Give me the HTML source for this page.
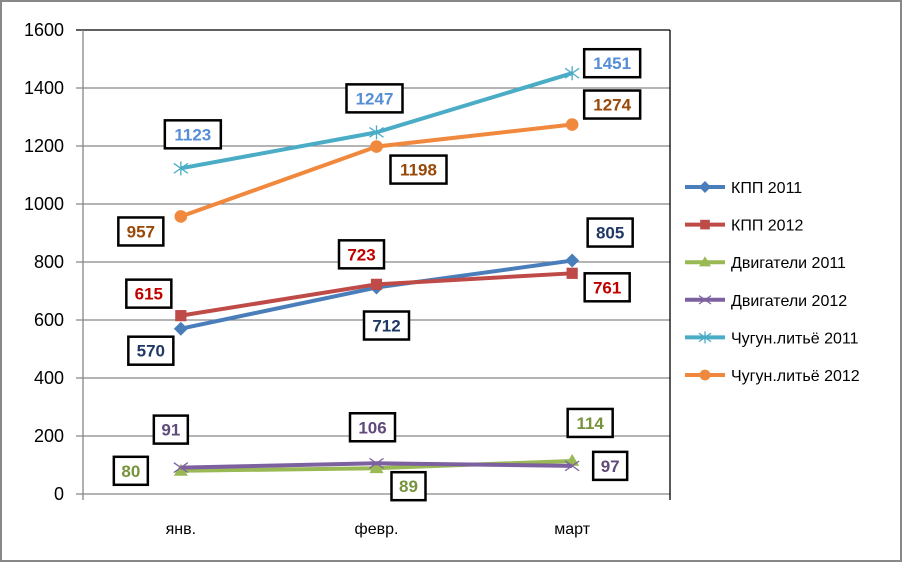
<!DOCTYPE html>
<html><head><meta charset="utf-8"><style>
body{margin:0;background:#fff;}
svg text{font-family:"Liberation Sans",sans-serif;}
</style></head><body>
<svg id="c" width="904" height="563" xmlns="http://www.w3.org/2000/svg">
<rect x="1" y="1" width="900" height="560" fill="#fff" stroke="#888" stroke-width="2"/>
<g id="grid"></g><g id="series"></g><g id="labels"></g><g id="legend"></g>
</svg>
<script>
const categories=["янв.","февр.","март"];
const seriesNames=["КПП 2011","КПП 2012","Двигатели 2011","Двигатели 2012","Чугун.литьё 2011","Чугун.литьё 2012"];
const kpp2011=[570,712,805];
const kpp2012=[615,723,761];
const dv2011=[80,89,114];
const dv2012=[91,106,97];
const ch2011=[1123,1247,1451];
const ch2012=[957,1198,1274];
const yTicks=[0,200,400,600,800,1000,1200,1400,1600];
const allSeries=[kpp2011,kpp2012,dv2011,dv2012,ch2011,ch2012];
const colors=["#4A7EBB","#BE4B48","#98B954","#7D60A0","#4BACC6","#F0883E"];
const labelColors=["#1F3864","#C00000","#77933C","#604A7B","#558ED5","#984807"];
const markers=["diamond","square","triangle","x","star","circle"];
// label offsets (layout, px) relative to point
const offs=[[[-30,22],[10,38],[38,-28]],[[-32,-22],[-15,-30],[35,14]],[[-50,0],[32,18],[18,-38]],[[-10,-38],[-4,-36],[38,0]],[[12,-34],[-2,-34],[40,-10]],[[-40,15],[42,23],[40,-20]]];
const NS="http://www.w3.org/2000/svg";
const L=83,R=670,T=30,B=494,yMax=1600;
const y=v=>B-(v/yMax)*(B-T);
const bw=(R-L)/categories.length;
const x=i=>L+bw*(i+0.5);
function mk(tag,at,parent){const e=document.createElementNS(NS,tag);for(const k in at)e.setAttribute(k,at[k]);parent.appendChild(e);return e;}
const grid=document.getElementById('grid');
yTicks.forEach(t=>{
 const ln=mk('line',{x1:76,x2:R,y1:y(t),y2:y(t),stroke:t===1600?'#000':'#868686','stroke-width':1.3},grid);
 
 
 const tx=mk('text',{x:64,y:y(t)+6,'text-anchor':'end','font-size':18,fill:'#000'},grid);tx.textContent=t;
 
 
});
const ax=mk('line',{x1:L,x2:L,y1:T,y2:B+6,stroke:'#868686','stroke-width':1.3},grid);


const rb=mk('line',{x1:R,x2:R,y1:T,y2:B+6,stroke:'#000','stroke-width':1.3},grid);


categories.forEach((c,i)=>{
 const tx=mk('text',{x:x(i),y:B+40,'text-anchor':'middle','font-size':16,fill:'#000'},grid);tx.textContent=c;
 
 
});
function marker(g,type,cx,cy,col,s){
 let e;
 if(type==='diamond')e=mk('polygon',{points:`${cx},${cy-s} ${cx+s},${cy} ${cx},${cy+s} ${cx-s},${cy}`,fill:col},g);
 else if(type==='square')e=mk('rect',{x:cx-s*0.8,y:cy-s*0.8,width:s*1.6,height:s*1.6,fill:col},g);
 else if(type==='triangle')e=mk('polygon',{points:`${cx},${cy-s} ${cx+s},${cy+s*0.7} ${cx-s},${cy+s*0.7}`,fill:col},g);
 else if(type==='circle')e=mk('circle',{cx:cx,cy:cy,r:s*0.9,fill:col},g);
 else if(type==='x')e=mk('path',{d:`M${cx-s} ${cy-s*0.7}L${cx+s} ${cy+s*0.7}M${cx-s} ${cy+s*0.7}L${cx+s} ${cy-s*0.7}`,stroke:col,'stroke-width':1.3},g);
 else e=mk('path',{d:`M${cx-s} ${cy-s*0.7}L${cx+s} ${cy+s*0.7}M${cx-s} ${cy+s*0.7}L${cx+s} ${cy-s*0.7}M${cx} ${cy-s}L${cx} ${cy+s}`,stroke:col,'stroke-width':1.3},g);
 return e;
}
const sg=document.getElementById('series'),lg=document.getElementById('labels'),leg=document.getElementById('legend');
allSeries.forEach((d,si)=>{
 const g=mk('g',{},sg);
 
 
 const pl=mk('polyline',{points:d.map((v,i)=>x(i)+','+y(v)).join(' '),fill:'none',stroke:colors[si],'stroke-width':4,'stroke-linejoin':'round'},g);
 
 
 d.forEach((v,i)=>{
  const m=marker(g,markers[si],x(i),y(v),colors[si],7);
  
  
  const cx=x(i)+offs[si][i][0],cy=y(v)+offs[si][i][1];
  const w=String(v).length*11+12;
  const bx=mk('rect',{x:cx-w/2,y:cy-14,width:w,height:28,fill:'#fff',stroke:'#000','stroke-width':2.5},lg);
  
  
  const t=mk('text',{x:cx,y:cy+6,'text-anchor':'middle','font-size':17,'font-weight':'bold',fill:labelColors[si]},lg);t.textContent=v;
  
  
 });
 const ly=187+si*37.6;
 const lgE=mk('g',{},leg);
 
 
 mk('line',{x1:685,x2:725,y1:ly,y2:ly,stroke:colors[si],'stroke-width':4},lgE);
 marker(lgE,markers[si],705,ly,colors[si],6);
 const lt=mk('text',{x:731,y:ly+6,'font-size':16,fill:'#000'},lgE);lt.textContent=seriesNames[si];
});
</script>
</body></html>
